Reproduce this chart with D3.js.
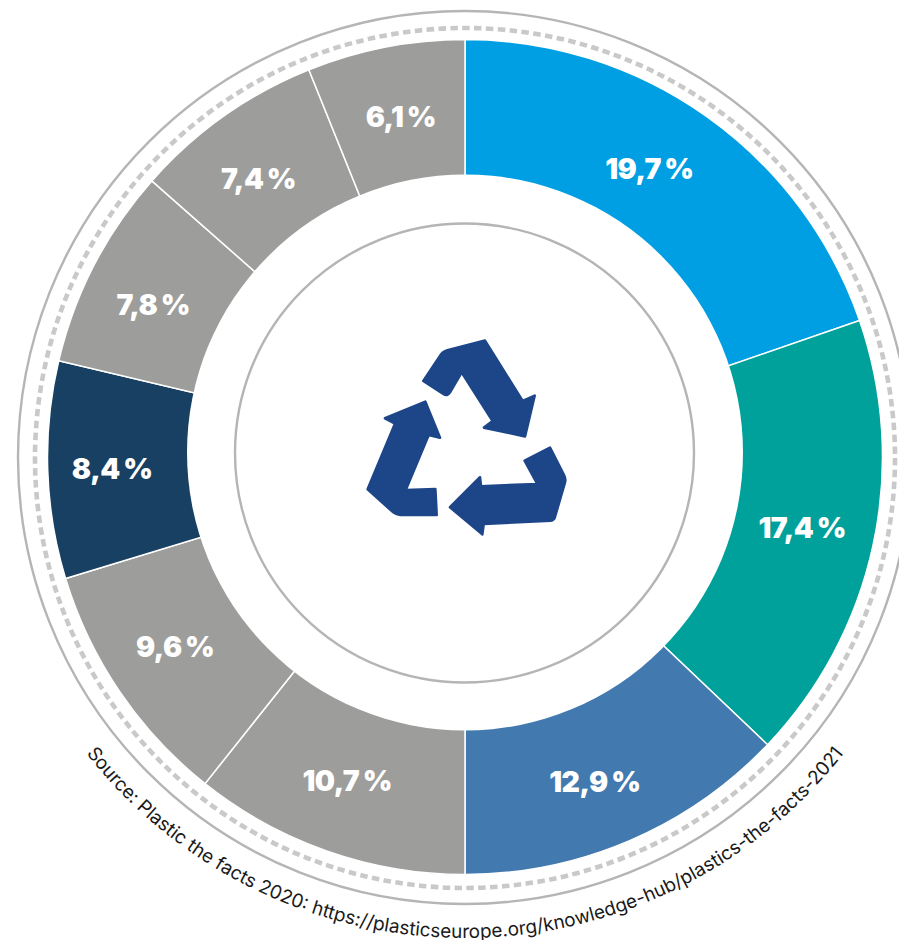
<!DOCTYPE html>
<html>
<head>
<meta charset="utf-8">
<script src="https://cdn.jsdelivr.net/npm/d3@7"></script>
<style>
  html, body { margin: 0; padding: 0; background: #fff; overflow: hidden; }
  svg { display: block; }
</style>
</head>
<body>
<div id="chart"></div>
<script>
// Values, clockwise from 12 o'clock
var labels = ["19,7\u2009%", "17,4\u2009%", "12,9\u2009%", "10,7\u2009%", "9,6\u2009%", "8,4\u2009%", "7,8\u2009%", "7,4\u2009%", "6,1\u2009%"];
var shares = [19.7, 17.4, 12.9, 10.7, 9.6, 8.4, 7.8, 7.4, 6.1];
var colours = ["#009fe3", "#00a19a", "#4279ae", "#9d9d9c", "#9d9d9c", "#184062", "#9d9d9c", "#9d9d9c", "#9d9d9c"];

// Labels were placed by hand in the original, so nudge them off the arc centroid
var labelNudge = [[-14, -10], [3, -2], [-5, 10], [-5, 1], [-7, -2], [-11, 1], [-8, 5], [-9, 1], [1, -5]];

var source = "Source: Plastic the facts 2020: https://plasticseurope.org/knowledge-hub/plastics-the-facts-2021";

var width = 899, height = 940;
var cx = 465, cy = 457;
var outerR = 417.5, labelR = 342, sourceR = 481;

var svg = d3.select("#chart")
    .append("svg")
    .attr("width", width)
    .attr("height", height);

var defs = svg.append("defs");

// Outer rings
svg.append("circle")
    .attr("cx", 464.5).attr("cy", 457.5).attr("r", 446.5)
    .style("fill", "none").style("stroke", "#b5b5b5").style("stroke-width", 2.4);

svg.append("circle")
    .attr("cx", 465).attr("cy", 458).attr("r", 430)
    .style("fill", "none").style("stroke", "#c9c9c9").style("stroke-width", 4.6)
    .style("stroke-dasharray", "7.5 4.4");

// Slices
var pie = d3.pie().sort(null).value(function (d) { return d; });
var arc = d3.arc().innerRadius(0).outerRadius(outerR);
var labelArc = d3.arc().innerRadius(labelR).outerRadius(labelR);
var slices = pie(shares);

var chart = svg.append("g")
    .attr("transform", "translate(" + cx + "," + cy + ")");

chart.selectAll("path")
    .data(slices)
    .enter()
    .append("path")
    .attr("d", arc)
    .style("fill", function (d, i) { return colours[i]; })
    .style("stroke", "#fff")
    .style("stroke-width", 1.5);

// The hole sits a few pixels higher than the ring
svg.append("circle")
    .attr("cx", 465).attr("cy", 452.5).attr("r", 278)
    .style("fill", "#fff");

svg.append("circle")
    .attr("cx", 464.5).attr("cy", 453).attr("r", 229.5)
    .style("fill", "none").style("stroke", "#b5b5b5").style("stroke-width", 2.4);

// Labels
chart.selectAll("text")
    .data(slices)
    .enter()
    .append("text")
    .attr("transform", function (d, i) {
        var p = labelArc.centroid(d);
        return "translate(" + (p[0] + labelNudge[i][0]) + "," + (p[1] + labelNudge[i][1]) + ")";
    })
    .attr("dy", "0.36em")
    .style("text-anchor", "middle")
    .style("font-family", "Inter, sans-serif")
    .style("font-weight", 900)
    .style("font-size", "28.5px")
    .style("letter-spacing", "-0.5px")
    .style("fill", "#fff")
    .text(function (d, i) { return labels[i]; });

// Recycling icon, traced in a 3x crop of the picture
var icon = svg.append("g")
    .attr("transform", "translate(340,320) scale(0.3333)")
    .style("fill", "#1d4689")
    .style("stroke", "#1d4689")
    .style("stroke-width", 8)
    .style("stroke-linejoin", "round");

icon.append("path").attr("d", "M250,183 L300,108 Q308,95 322,91 L435,62 L548,243 L584,227 L555,349 L432,323 L458,303 L365,157 L330,217 Q322,230 310,222 Z");
icon.append("path").attr("d", "M135,295 L256,245 L300,353 L266,345 L197,510 L286,507 L290,585 L180,585 Q170,585 160,577 L83,508 L165,311 Z");
icon.append("path").attr("d", "M330,562 L420,472 L423,499 L592,492 L554,422 L630,383 L672,465 Q678,477 675,487 L645,590 Q643,600 632,602 L431,612 L427,643 Z");

// Source text along the bottom of the ring, running left to right
var sourcePath = d3.path();
sourcePath.arc(cx, cy, sourceR, Math.PI * 0.95, Math.PI * 0.05, true);

defs.append("path")
    .attr("id", "sourceArc")
    .attr("d", sourcePath.toString());

svg.append("text")
    .style("font-family", "Inter, sans-serif")
    .style("font-size", "18.9px")
    .style("fill", "#1a1a1a")
    .append("textPath")
    .attr("href", "#sourceArc")
    .attr("startOffset", "50%")
    .style("text-anchor", "middle")
    .text(source);
</script>
</body>
</html>
